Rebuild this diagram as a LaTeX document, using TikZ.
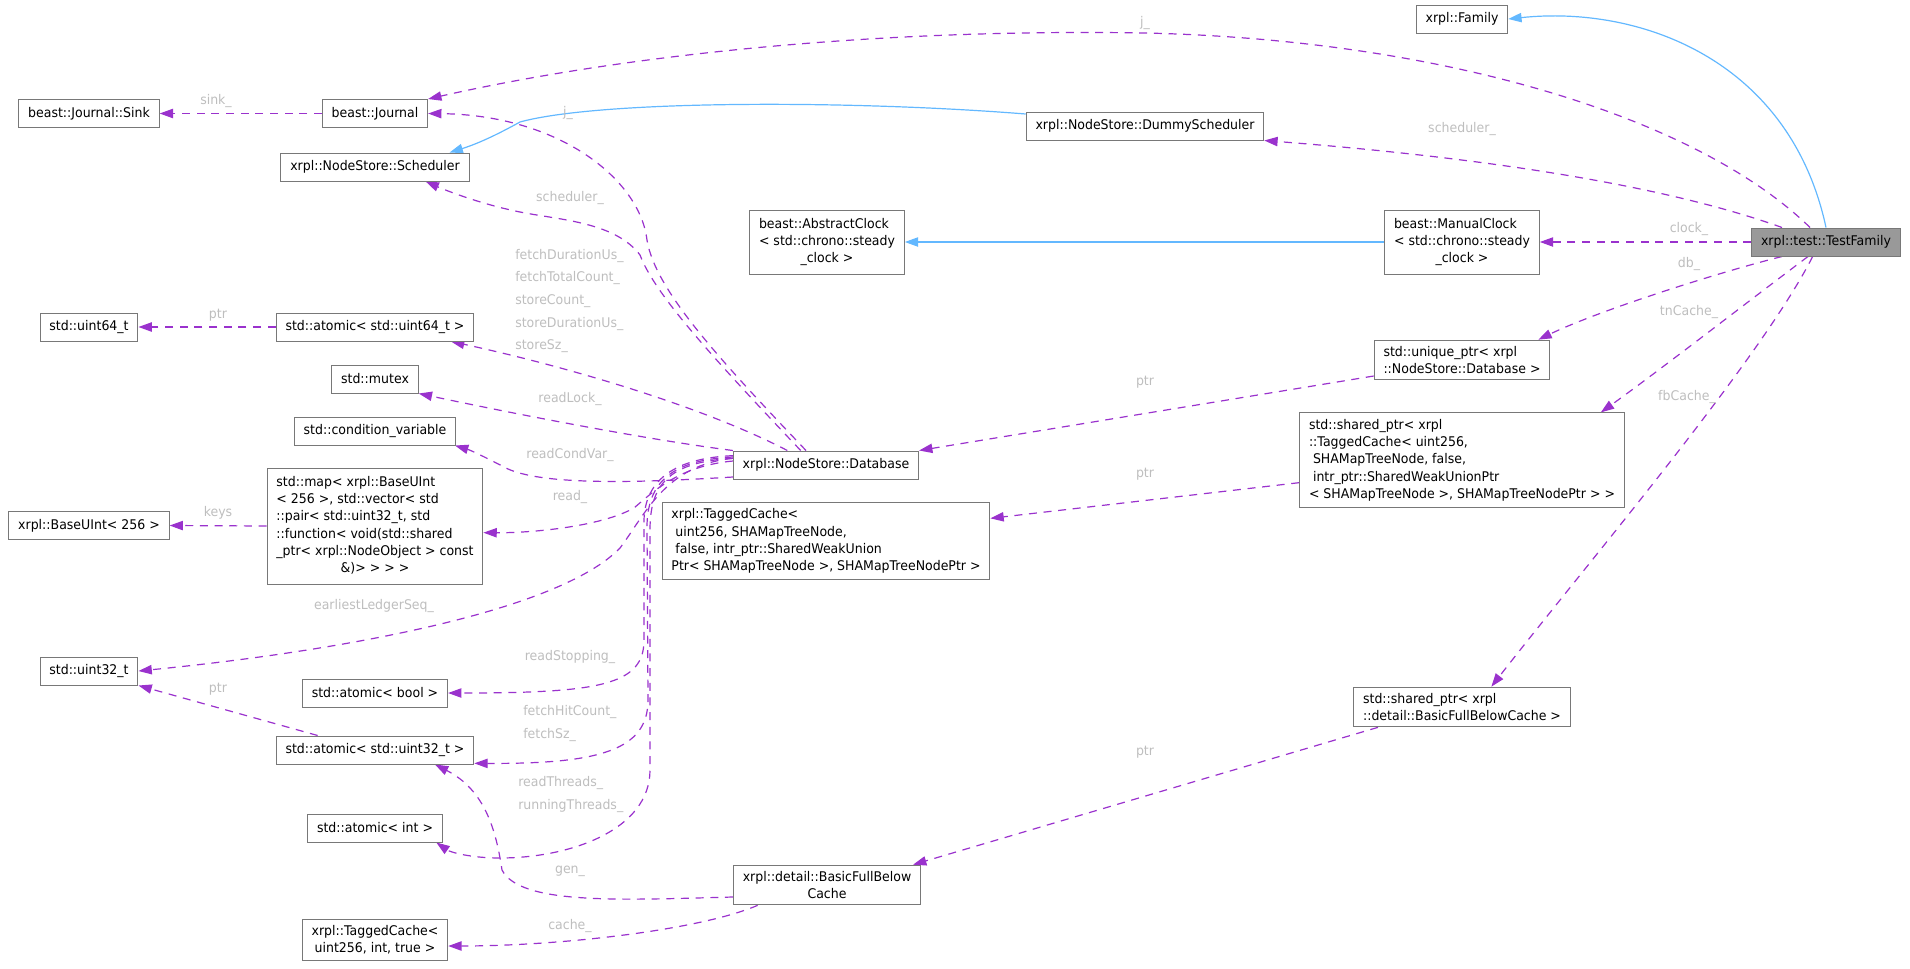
\documentclass[tikz,border=0pt]{standalone}
\usepackage{fontspec}
\setmainfont{DejaVu Sans}[FakeStretch=0.94]
\usetikzlibrary{arrows.meta, positioning, backgrounds}
\definecolor{EdgePurple}{RGB}{154, 50, 205}
\definecolor{InheritBlue}{RGB}{99, 184, 255}
\definecolor{BoxGray}{RGB}{120, 120, 120}
\definecolor{MainFill}{RGB}{153, 153, 153}
\definecolor{LabelGray}{RGB}{190, 190, 190}

\begin{document}
\begin{tikzpicture}[x=0.75pt, y=-0.75pt,
            font=\fontsize{10}{13}\selectfont,
            cls/.style={draw=BoxGray, line width=0.75pt, fill=white, inner xsep=7pt, inner ysep=4.5pt, minimum height=21pt},
            mainc/.style={cls, fill=MainFill},
            member/.style={EdgePurple, line width=0.9pt, dash pattern=on 6pt off 5pt, -{Triangle[length=10pt, width=7pt]}},
            inherit/.style={InheritBlue, line width=0.9pt, -{Triangle[length=10pt, width=7pt]}},
            lbl/.style={text=LabelGray, inner sep=0pt},
            lbls/.style={lbl, align=left, anchor=west, font=\fontsize{10}{17}\selectfont}]
            \useasboundingbox (0,0) rectangle (1910,968);
            % Classes
            \node[mainc] (tf) at (1826,242) {xrpl::test::TestFamily};
            \node[cls] (fam) at (1462,19) {xrpl::Family};
            \node[cls] (sink) at (89,113.5) {beast::Journal::Sink};
            \node[cls] (jour) at (375,113.5) {beast::Journal};
            \node[cls] (sch) at (375,167) {xrpl::NodeStore::Scheduler};
            \node[cls] (ds) at (1145,126) {xrpl::NodeStore::DummyScheduler};
            \node[cls] (ac) at (827,242) {\begin{tabular}{@{}l@{}}beast::AbstractClock\\< std::chrono::steady\\\multicolumn{1}{@{}c@{}}{\_clock >}\end{tabular}};
            \node[cls] (mc) at (1462,242) {\begin{tabular}{@{}l@{}}beast::ManualClock\\< std::chrono::steady\\\multicolumn{1}{@{}c@{}}{\_clock >}\end{tabular}};
            \node[cls] (u64) at (89,327) {std::uint64\_t};
            \node[cls] (a64) at (375,327) {std::atomic< std::uint64\_t >};
            \node[cls] (mx) at (375,379) {std::mutex};
            \node[cls] (cv) at (375,431) {std::condition\_variable};
            \node[cls] (mp) at (375,526) {\begin{tabular}{@{}l@{}}std::map< xrpl::BaseUInt\\< 256 >, std::vector< std\\::pair< std::uint32\_t, std\\::function< void(std::shared\\\_ptr< xrpl::NodeObject > const\\\multicolumn{1}{@{}c@{}}{\&)> > > >}\end{tabular}};
            \node[cls] (bu) at (89,525.5) {xrpl::BaseUInt< 256 >};
            \node[cls] (db) at (826,465) {xrpl::NodeStore::Database};
            \node[cls, align=left] (up) at (1462,360) {std::unique\_ptr< xrpl\\::NodeStore::Database >};
            \node[cls, align=left] (stc) at (1462,460) {std::shared\_ptr< xrpl\\::TaggedCache< uint256,\\\hspace*{3pt}SHAMapTreeNode, false,\\\hspace*{3pt}intr\_ptr::SharedWeakUnionPtr\\< SHAMapTreeNode >, SHAMapTreeNodePtr > >};
            \node[cls, align=left] (tc) at (826,541) {xrpl::TaggedCache<\\\hspace*{3pt}uint256, SHAMapTreeNode,\\\hspace*{3pt}false, intr\_ptr::SharedWeakUnion\\Ptr< SHAMapTreeNode >, SHAMapTreeNodePtr >};
            \node[cls] (u32) at (89,671) {std::uint32\_t};
            \node[cls] (ab) at (375,693) {std::atomic< bool >};
            \node[cls] (a32) at (375,750) {std::atomic< std::uint32\_t >};
            \node[cls] (ai) at (375,828) {std::atomic< int >};
            \node[cls, align=center] (tci) at (375,940) {xrpl::TaggedCache<\\uint256, int, true >};
            \node[cls, align=center] (bfbc) at (827,885) {xrpl::detail::BasicFullBelow\\Cache};
            \node[cls, align=left] (sbf) at (1462,707) {std::shared\_ptr< xrpl\\::detail::BasicFullBelowCache >};
            % Edge labels
            \node[lbl] (lsink) at (216,101) {sink\_};
            \node[lbl] (ljtop) at (1145,23) {j\_};
            \node[lbl] (ljdb) at (568,113) {j\_};
            \node[lbl] (lschdb) at (570,198) {scheduler\_};
            \node[lbl] (lschtf) at (1462,129) {scheduler\_};
            \node[lbls] (lfetch) at (515,301) {fetchDurationUs\_\\fetchTotalCount\_\\storeCount\_\\storeDurationUs\_\\storeSz\_};
            \node[lbl] (lp64) at (218,315) {ptr};
            \node[lbl] (lkeys) at (218,513) {keys};
            \node[lbl] (llock) at (570,399) {readLock\_};
            \node[lbl] (lcond) at (570,455) {readCondVar\_};
            \node[lbl] (lread) at (570,497) {read\_};
            \node[lbl] (lseq) at (374,606) {earliestLedgerSeq\_};
            \node[lbl] (lstop) at (570,657) {readStopping\_};
            \node[lbl] (lp32) at (218,689) {ptr};
            \node[lbls] (lhit) at (523,723.5) {fetchHitCount\_\\fetchSz\_};
            \node[lbls] (lthr) at (518,794.5) {readThreads\_\\runningThreads\_};
            \node[lbl] (lgen) at (570,871) {gen\_};
            \node[lbl] (lcache) at (570,926) {cache\_};
            \node[lbl] (lclock) at (1689,229) {clock\_};
            \node[lbl] (ldb) at (1689,264) {db\_};
            \node[lbl] (ltn) at (1689,312) {tnCache\_};
            \node[lbl] (lfb) at (1687,397) {fbCache\_};
            \node[lbl] (lpup) at (1145,382) {ptr};
            \node[lbl] (lpstc) at (1145,474) {ptr};
            \node[lbl] (lpsbf) at (1145,752) {ptr};
            \begin{scope}[on background layer]
                % Inheritance
                \draw[inherit] (tf.north) .. controls (1790,60) and (1640,5) .. (fam.east);
                \draw[inherit] ([yshift=9pt]ds.west) .. controls (850,100) and (600,100) .. (520,122) .. controls (500,133) and (480,143) .. ([xshift=-15pt]sch.north east);
                \draw[inherit] (mc.west) -- (ac.east);
                % Members of TestFamily
                \draw[member] ([xshift=-12pt]tf.north) .. controls (1700,120) and (1450,40) .. (1145,33) .. controls (850,28) and (600,60) .. (jour.north east);
                \draw[member] ([xshift=-33pt]tf.north) .. controls (1650,180) and (1450,155) .. (ds.south east);
                \draw[member] (tf.west) -- (mc.east);
                \draw[member] ([xshift=-33pt]tf.south) .. controls (1720,272) and (1600,310) .. ([xshift=-9pt]up.north east);
                \draw[member] ([xshift=-13.5pt]tf.south) .. controls (1750,300) and (1660,370) .. ([xshift=-18pt]stc.north east);
                \draw[member] ([xshift=-10pt]tf.south) .. controls (1760,360) and (1590,560) .. ([xshift=22pt]sbf.north);
                % Smart pointers
                \draw[member] ([yshift=-12pt]up.west) -- (db.north east);
                \draw[member] ([yshift=-17pt]stc.west) -- ([yshift=17pt]tc.east);
                \draw[member] ([xshift=-63pt]sbf.south) -- ([xshift=-6pt]bfbc.north east);
                % Members of Database
                \draw[member] ([xshift=-15pt]db.north) .. controls (720,360) and (655,290) .. (647,240) .. controls (640,180) and (560,115) .. (jour.east);
                \draw[member] ([xshift=-19pt]db.north) .. controls (715,360) and (655,295) .. (640,255) .. controls (615,222) and (560,220) .. (520,212) .. controls (480,204) and (445,190) .. ([xshift=38pt]sch.south);
                \draw[member] ([xshift=-29pt]db.north) .. controls (700,405) and (560,365) .. ([xshift=57pt]a64.south);
                \draw[member] (db.north west) .. controls (650,440) and (520,415) .. (mx.south east);
                \draw[member] ([yshift=-9pt]db.west) .. controls (650,482) and (540,487) .. (504,467) .. controls (485,457) and (470,450) .. ([xshift=60pt]cv.south);
                \draw[member] ([yshift=3pt]db.west) .. controls (680,466) and (655,490) .. (634,508) .. controls (600,527) and (530,533) .. ([yshift=-5pt]mp.east);
                \draw[member] ([yshift=5pt]db.west) .. controls (665,465) and (645,515) .. (620,548) .. controls (560,610) and (350,650) .. (u32.east);
                \draw[member] ([yshift=7pt]db.west) .. controls (675,458) and (645,480) .. (644,520) -- (644,640) .. controls (644,685) and (600,693) .. (ab.east);
                \draw[member] ([yshift=6pt]db.west) .. controls (672,460) and (648,482) .. (647,525) -- (648,700) .. controls (648,750) and (600,764) .. ([yshift=-10pt]a32.east);
                \draw[member] ([yshift=5pt]db.west) .. controls (668,462) and (650,485) .. (650,530) -- (650,770) .. controls (650,830) and (570,858) .. (500,858) .. controls (470,858) and (450,852) .. ([xshift=46pt]ai.south);
                % Members of BasicFullBelowCache
                \draw[member] ([yshift=-9pt]bfbc.west) .. controls (620,900) and (520,905) .. (502,870) .. controls (496,830) and (485,790) .. ([xshift=45pt]a32.south);
                \draw[member] ([xshift=-52pt]bfbc.south) .. controls (700,930) and (560,946) .. ([yshift=-4.5pt]tci.east);
                % Left column
                \draw[member] ([xshift=-43pt]a32.north) -- (u32.south east);
                \draw[member] (a64.west) -- (u64.east);
                \draw[member] (mp.west) -- (bu.east);
                \draw[member] (jour.west) -- (sink.east);
            \end{scope}
        \end{tikzpicture}
\end{document}
